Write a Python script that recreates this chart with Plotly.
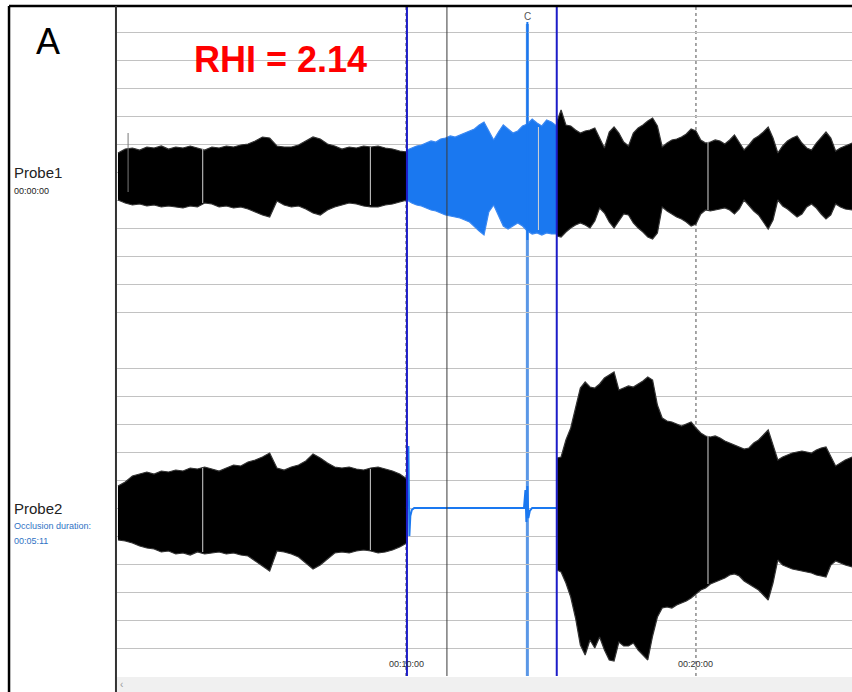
import plotly.graph_objects as go

# ---------------- data (time in seconds, amplitude in arbitrary units) ----------------
t_pre = [0, 15, 30, 45, 60, 75, 90, 105, 120, 135, 150, 165, 180, 195, 210, 225, 240, 255, 270, 285,
         300, 315, 330, 345, 360, 375, 390, 405, 420, 435, 450, 465, 480, 495, 510, 525, 540, 555, 570, 585, 600]
t_occ = [600, 610, 620, 630, 640, 650, 660, 670, 680, 690, 700, 710, 720, 730, 740, 750, 760, 770, 780, 790,
         800, 810, 820, 830, 840, 850, 860, 870, 880, 890, 900, 911]
t_post = [911, 920, 930, 940, 950, 960, 970, 980, 990, 1000, 1010, 1020, 1030, 1040, 1050, 1060, 1070, 1080,
          1090, 1100, 1110, 1120, 1130, 1140, 1150, 1160, 1170, 1180, 1190, 1200, 1210, 1220, 1230, 1240,
          1250, 1260, 1270, 1280, 1290, 1300, 1310, 1320, 1330, 1340, 1350, 1360, 1370, 1380, 1390, 1400,
          1410, 1420, 1430, 1440, 1450, 1460, 1470, 1480, 1490, 1500, 1510, 1525]

# Probe1 (finger under test) envelope
p1_pre_top = [19, 23, 24, 22, 25, 24, 26, 23, 25, 24, 26, 24, 22, 25, 24, 26, 25, 27, 28, 31,
              35, 34, 26, 25, 25, 27, 31, 35, 33, 28, 26, 23, 25, 24, 26, 25, 26, 24, 23, 21, 20]
p1_pre_bot = [-28, -31, -33, -32, -34, -33, -35, -34, -35, -36, -34, -35, -31, -32, -35, -34, -36, -35, -37, -40,
              -43, -45, -29, -33, -35, -34, -37, -41, -43, -38, -35, -33, -31, -32, -34, -35, -35, -33, -32, -30, -28]
p1_occ_top = [22, 24, 26, 27, 29, 31, 30, 33, 34, 36, 35, 37, 39, 41, 43, 47, 50, 41, 32, 40,
              47, 43, 39, 41, 46, 48, 53, 49, 46, 52, 50, 46]
p1_occ_bot = [-28, -31, -33, -34, -36, -38, -39, -41, -43, -44, -45, -46, -48, -50, -54, -59, -63, -40, -33, -43,
              -54, -57, -54, -51, -54, -59, -62, -61, -63, -61, -62, -62]
p1_post_top = [50, 62, 47, 46, 42, 39, 41, 42, 44, 34, 24, 40, 45, 39, 30, 26, 39, 44, 47, 51, 54, 46, 25, 29,
               32, 33, 35, 38, 43, 41, 32, 29, 30, 32, 31, 28, 32, 37, 30, 22, 27, 33, 36, 40, 45, 34, 19, 26,
               31, 34, 36, 29, 24, 22, 29, 35, 40, 34, 21, 24, 26, 29]
p1_post_bot = [-64, -65, -60, -56, -53, -51, -53, -56, -49, -36, -41, -50, -56, -49, -42, -43, -51, -56, -60, -65,
               -67, -61, -35, -39, -42, -45, -47, -50, -54, -52, -42, -38, -39, -38, -37, -36, -38, -42, -37, -28,
               -34, -39, -43, -50, -57, -48, -28, -34, -37, -41, -45, -42, -35, -32, -36, -42, -47, -43, -32, -35,
               -37, -38]

# Probe2 (control / occluded arm) envelope
p2_pre_top = [22, 26, 32, 34, 36, 34, 37, 36, 38, 37, 40, 39, 41, 39, 37, 40, 43, 42, 46, 48,
              51, 55, 40, 38, 41, 43, 47, 54, 50, 45, 41, 40, 41, 39, 38, 40, 41, 39, 37, 34, 29]
p2_pre_bot = [-32, -33, -35, -38, -40, -41, -44, -43, -46, -45, -47, -44, -46, -45, -44, -46, -45, -47, -48, -53,
              -58, -63, -43, -44, -46, -49, -55, -61, -57, -51, -45, -44, -45, -43, -42, -43, -45, -44, -42, -39, -35]
t_occ2 = [600, 603, 605, 607, 610, 615, 625, 635, 645, 655, 665, 675, 685, 695, 705, 715, 725, 735, 745, 755,
          765, 775, 785, 795, 805, 815, 825, 835, 843, 846, 848, 850, 852, 855, 860, 870, 880, 890, 900, 911]
p2_occ = [0, 62, -28, -8, -2, 0, 0, 0, 0.5, 0, 0, 0.5, 0, 0, 0, 0, 0, 0, 0.5, 0,
          0, 0, 0, 0, 0, 0.5, 0, 0, 0, 18, -14, 22, -10, -3, 0, 0, 0, 0, 0, 0]
t_post2 = [912] + t_post[1:]
p2_post_top = [50, 51, 68, 80, 100, 120, 126, 121, 120, 124, 130, 133, 136, 118, 120, 122, 121, 124, 127, 131,
               128, 103, 90, 87, 86, 84, 82, 84, 86, 80, 75, 72, 71, 72, 70, 67, 65, 63, 61, 59,
               60, 65, 68, 73, 78, 63, 48, 51, 53, 55, 56, 57, 56, 55, 58, 60, 61, 52, 42, 45, 48, 51]
p2_post_bot = [-62, -64, -75, -89, -110, -137, -147, -132, -140, -129, -142, -152, -153, -134, -138, -138, -135,
               -142, -147, -152, -128, -109, -100, -99, -100, -97, -95, -93, -90, -86, -82, -80, -76, -74, -72,
               -70, -67, -66, -68, -73, -76, -79, -82, -87, -92, -75, -52, -57, -59, -61, -62, -63, -64, -65,
               -67, -68, -69, -57, -53, -55, -57, -59]

# event markers (s)
occlusion_start = 600
occlusion_end = 911
cursor_time = 683
c_time = 850
c_spike_probe1 = [-68, 150]
grid_dotted_times = [598, 1200]
tick_times = [600, 1200]
tick_labels = ["00:10:00", "00:20:00"]

# signal dropouts: (time, low, high)
p1_dropouts = [(176, -31, 24), (524, -33, 25), (873, -58, 45), (1225, -38, 30)]
p1_spikes = [(21, -20, 39)]
p2_dropouts = [(176, -44, 40), (524, -42, 39), (1225, -76, 72)]

BLACK = "#000000"
SIG_BLUE = "#1a78f0"
DARK_BLUE = "#1c1cc8"
LIGHT_BLUE = "#5a97e6"
ARIAL = "Liberation Sans, Arial, sans-serif"

fig = go.Figure()


def band(t, top, bot, color, edge, yaxis):
    fig.add_trace(go.Scatter(
        x=list(t) + list(t)[::-1], y=list(top) + list(bot)[::-1],
        fill="toself", fillcolor=color, mode="lines",
        line=dict(color=edge, width=1.2), yaxis=yaxis, hoverinfo="skip", showlegend=False))


band(t_pre, p1_pre_top, p1_pre_bot, BLACK, "#333333", "y")
band(t_occ, p1_occ_top, p1_occ_bot, SIG_BLUE, "#3a88f2", "y")
band(t_post, p1_post_top, p1_post_bot, BLACK, "#333333", "y")
band(t_pre, p2_pre_top, p2_pre_bot, BLACK, "#333333", "y2")
band(t_post2, p2_post_top, p2_post_bot, BLACK, "#333333", "y2")
fig.add_trace(go.Scatter(x=t_occ2, y=p2_occ, mode="lines", line=dict(color=SIG_BLUE, width=2),
                         yaxis="y2", hoverinfo="skip", showlegend=False))
fig.add_trace(go.Scatter(x=[c_time, c_time], y=c_spike_probe1, mode="lines",
                         line=dict(color=SIG_BLUE, width=2), yaxis="y", hoverinfo="skip", showlegend=False))

shapes = []
for (tt, lo, hi) in p1_dropouts:
    shapes.append(dict(type="line", xref="x", yref="y", x0=tt, x1=tt, y0=lo, y1=hi,
                       line=dict(color="#d4d4d4", width=1), layer="above"))
for (tt, lo, hi) in p1_spikes:
    shapes.append(dict(type="line", xref="x", yref="y", x0=tt, x1=tt, y0=lo, y1=hi,
                       line=dict(color="#777777", width=1), layer="above"))
for (tt, lo, hi) in p2_dropouts:
    shapes.append(dict(type="line", xref="x", yref="y2", x0=tt, x1=tt, y0=lo, y1=hi,
                       line=dict(color="#d4d4d4", width=1), layer="above"))

for tt in grid_dotted_times:
    shapes.append(dict(type="line", xref="x", yref="paper", x0=tt, x1=tt, y0=0, y1=1,
                       line=dict(color="#8a8a8a", width=1.5, dash="dot"), layer="between"))
shapes.append(dict(type="line", xref="x", yref="paper", x0=cursor_time, x1=cursor_time, y0=0, y1=1,
                   line=dict(color="#3a3a3a", width=1), layer="above"))
shapes.append(dict(type="line", xref="x", yref="paper", x0=c_time, x1=c_time, y0=0, y1=0.9746,
                   line=dict(color=LIGHT_BLUE, width=3), layer="between"))
for tt in [occlusion_start, occlusion_end]:
    shapes.append(dict(type="line", xref="x", yref="paper", x0=tt, x1=tt, y0=0, y1=1,
                       line=dict(color=DARK_BLUE, width=2), layer="above"))

# window chrome
shapes.append(dict(type="rect", xref="paper", yref="paper", x0=0, x1=1.01, y0=-0.0015, y1=-0.03,
                   fillcolor="#f0f0f0", line=dict(width=0), layer="above"))
shapes.append(dict(type="line", xref="paper", yref="paper", x0=-0.1469, x1=1.01, y0=1.0015, y1=1.0015,
                   line=dict(color="#000000", width=2.5), layer="above"))
shapes.append(dict(type="line", xref="paper", yref="paper", x0=-0.1469, x1=-0.1469, y0=1.0015, y1=-0.03,
                   line=dict(color="#000000", width=2.5), layer="above"))
shapes.append(dict(type="line", xref="paper", yref="paper", x0=-0.0014, x1=-0.0014, y0=1.0015, y1=-0.03,
                   line=dict(color="#333333", width=2), layer="above"))

ann = [
    dict(text="A", x=-0.0939, y=0.9477, font=dict(family=ARIAL, size=36, color="#000000")),
    dict(text="<b>RHI = 2.14</b>", x=0.2218, y=0.9208, font=dict(family=ARIAL, size=36, color="#ff0000")),
    dict(text="Probe1", x=-0.1429, y=0.7519, xanchor="left", font=dict(family=ARIAL, size=15, color="#222222")),
    dict(text="00:00:00", x=-0.1429, y=0.7250, xanchor="left", font=dict(family=ARIAL, size=9, color="#222222")),
    dict(text="Probe2", x=-0.1429, y=0.2511, xanchor="left", font=dict(family=ARIAL, size=15, color="#222222")),
    dict(text="Occlusion duration:", x=-0.1429, y=0.2242, xanchor="left",
         font=dict(family=ARIAL, size=9, color="#2f72c4")),
    dict(text="00:05:11", x=-0.1429, y=0.2018, xanchor="left", font=dict(family=ARIAL, size=9, color="#2f72c4")),
    dict(text="‹", x=0.0068, y=-0.012, font=dict(family=ARIAL, size=10, color="#999999")),
]
for a in ann:
    a.setdefault("xanchor", "center")
    a.update(xref="paper", yref="paper", yanchor="middle", showarrow=False)
for tt, lab in zip(tick_times, tick_labels):
    ann.append(dict(text=lab, x=tt, y=0.018, xref="x", yref="paper", xanchor="center", yanchor="middle",
                    showarrow=False, font=dict(family=ARIAL, size=9, color="#333333")))
ann.append(dict(text="C", x=c_time, y=0.986, xref="x", yref="paper", xanchor="center", yanchor="middle",
                showarrow=False, font=dict(family=ARIAL, size=10, color="#555555")))

grid_vals = [-140, -112, -84, -56, -28, 0, 28, 56, 84, 112, 140]
yax = dict(tickvals=grid_vals, showticklabels=False, ticks="", showgrid=True, gridcolor="#c2c2c2",
           gridwidth=1.2, zeroline=False, showline=False, fixedrange=True)

fig.update_layout(
    width=852, height=692,
    margin=dict(l=117, r=0, t=7, b=16),
    paper_bgcolor="white", plot_bgcolor="white",
    showlegend=False,
    xaxis=dict(range=[-2, 1524], showgrid=False, showticklabels=False, ticks="", zeroline=False,
               showline=False, fixedrange=True),
    yaxis=dict(domain=[0.5, 1], range=[-169.5, 165], **yax),
    yaxis2=dict(domain=[0, 0.5], range=[-168, 166.5], anchor="x", **yax),
    shapes=shapes,
    annotations=ann,
)

fig.write_html("out.html", config={"displayModeBar": False},
               post_script="document.body.style.margin='0px';document.body.style.overflow='hidden';")
